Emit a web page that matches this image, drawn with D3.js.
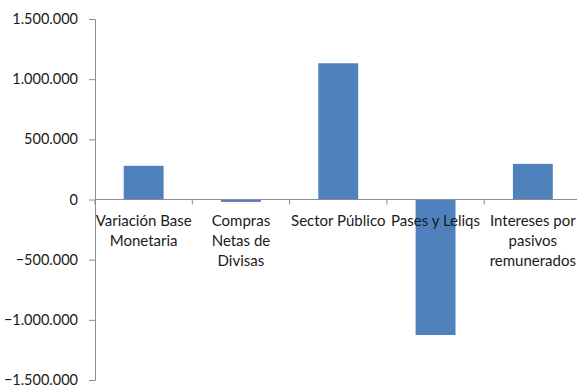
<!DOCTYPE html>
<html>
<head>
<meta charset="utf-8">
<script src="https://cdn.jsdelivr.net/npm/d3@7"></script>
<style>
  body { margin: 0; background: #fff; }
  svg text { font-family: Lato, "Open Sans", sans-serif; fill: #1a1a1a; }
</style>
</head>
<body>
<div id="chart"></div>
<script>
// categories and values
var categories = [
  ["Variación Base", "Monetaria"],
  ["Compras", "Netas de", "Divisas"],
  ["Sector Público"],
  ["Pases y Leliqs"],
  ["Intereses por", "pasivos", "remunerados"]
];
var values = [280000, -20000, 1132000, -1126000, 296000];
var yTicks = [1500000, 1000000, 500000, 0, -500000, -1000000, -1500000];

var width = 577, height = 385;
var svg = d3.select("#chart").append("svg")
  .attr("width", width)
  .attr("height", height);

var x = d3.scaleBand()
  .domain(d3.range(categories.length))
  .range([95, 581.5])
  .paddingInner(0.59)
  .paddingOuter(0.295);

var y = d3.scaleLinear()
  .domain([-1500000, 1500000])
  .range([380, 19]);

var fmt = function(d) {
  return d3.format(",")(d).replace(/,/g, ".");
};

// bars
svg.selectAll("rect.bar")
  .data(values)
  .enter().append("rect")
  .attr("class", "bar")
  .attr("x", (d, i) => x(i))
  .attr("width", x.bandwidth())
  .attr("y", d => y(Math.max(0, d)))
  .attr("height", d => Math.abs(y(d) - y(0)))
  .style("fill", "#4f81bd");

// y axis
var yAxis = d3.axisLeft(y).tickValues(yTicks).tickFormat(fmt).tickSize(6).tickPadding(11);
var gy = svg.append("g").attr("transform", "translate(95,0)").call(yAxis);
gy.select(".domain").attr("stroke", "#8c8c8c");
gy.selectAll(".tick line").attr("stroke", "#8c8c8c");
gy.selectAll(".tick text").style("font-size", "14.5px");

// zero line with tick marks between categories
svg.append("line")
  .attr("x1", 95).attr("x2", 581.5)
  .attr("y1", y(0)).attr("y2", y(0))
  .attr("stroke", "#8c8c8c");

var step = x.step();
svg.selectAll("line.xtick")
  .data(d3.range(categories.length + 1))
  .enter().append("line")
  .attr("class", "xtick")
  .attr("x1", d => 95 + d * step)
  .attr("x2", d => 95 + d * step)
  .attr("y1", y(0))
  .attr("y2", y(0) + 5)
  .attr("stroke", "#8c8c8c");

// category labels
svg.selectAll("text.cat")
  .data(categories)
  .enter().append("text")
  .attr("class", "cat")
  .attr("text-anchor", "middle")
  .style("font-size", "15px")
  .each(function(lines, i) {
    var t = d3.select(this);
    lines.forEach(function(s, j) {
      t.append("tspan")
        .attr("x", x(i) + x.bandwidth() / 2)
        .attr("y", 226 + j * 20)
        .text(s);
    });
  });
</script>
</body>
</html>
